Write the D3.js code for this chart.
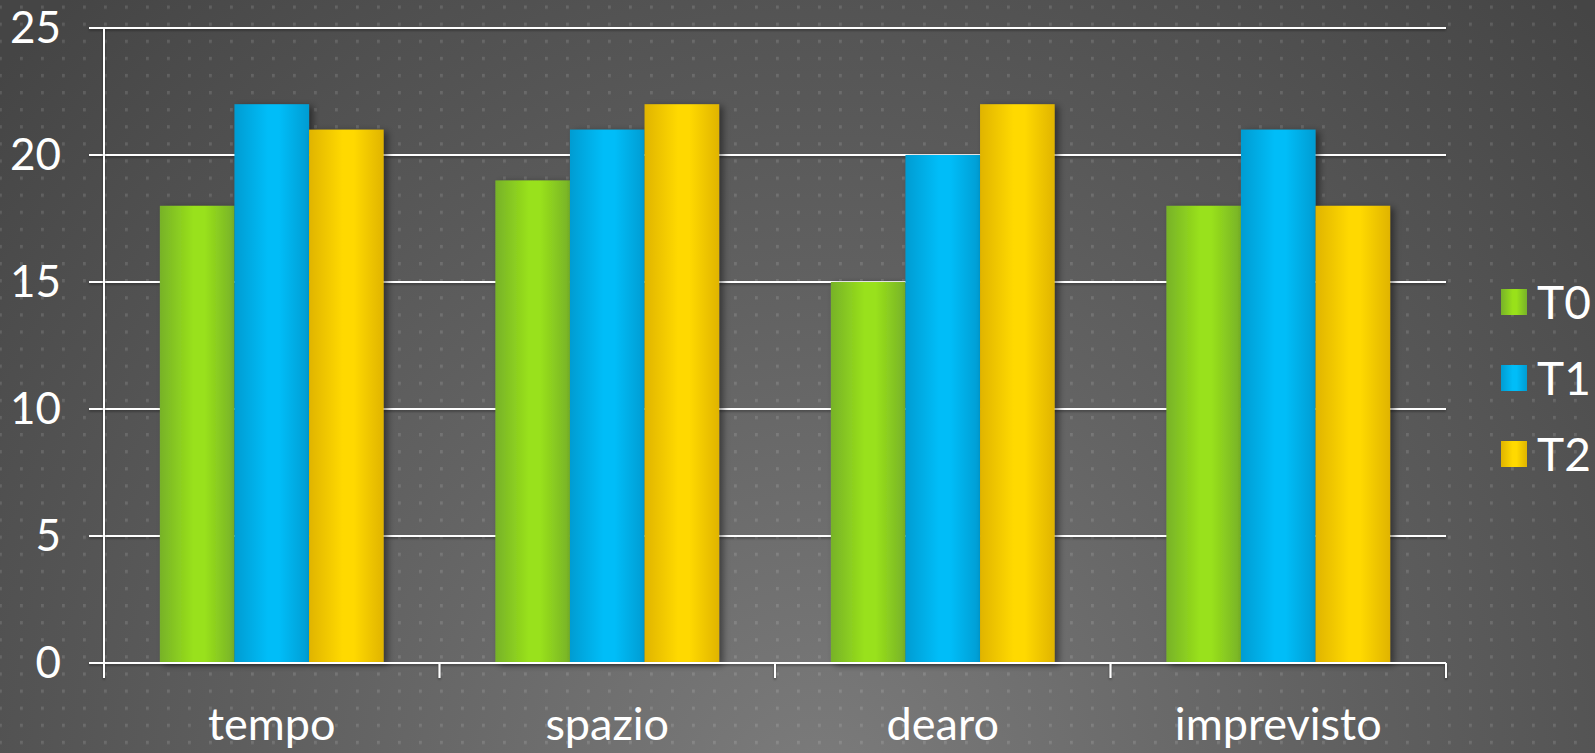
<!DOCTYPE html>
<html>
<head>
<meta charset="utf-8">
<script src="https://cdn.jsdelivr.net/npm/d3@7"></script>
<style>
  html, body { margin: 0; padding: 0; background: #555; overflow: hidden; }
  svg { display: block; }
  text { font-family: Lato, "Open Sans", sans-serif; fill: #fff; }
</style>
</head>
<body>
<svg id="chart" width="1595" height="753"></svg>
<script>
// Categories, series and values
const categories = ["tempo", "spazio", "dearo", "imprevisto"];
const seriesNames = ["T0", "T1", "T2"];
const T0 = [18, 19, 15, 18];
const T1 = [22, 21, 20, 21];
const T2 = [21, 22, 22, 18];
const yTicks = [0, 5, 10, 15, 20, 25];

// Bar colours: [dark edge, bright centre]
const seriesColors = [
  ["#77b229", "#99e11a"],
  ["#009cd2", "#00bdf8"],
  ["#e0b400", "#ffd900"]
];

const values = [T0, T1, T2];
const width = 1595, height = 753;
const margin = { left: 104, right: 149, top: 28, bottom: 90 };
const plotRight = width - margin.right;
const plotBottom = height - margin.bottom;

const svg = d3.select("#chart");
const defs = svg.append("defs");

// Background: dark at the top, lighter toward the bottom centre
const bg = defs.append("radialGradient").attr("id", "bgGrad")
  .attr("gradientUnits", "userSpaceOnUse")
  .attr("cx", 820).attr("cy", 800).attr("r", 1100);
bg.append("stop").attr("offset", "0%").attr("stop-color", "#7c7c7c");
bg.append("stop").attr("offset", "45%").attr("stop-color", "#626262");
bg.append("stop").attr("offset", "100%").attr("stop-color", "#454545");

// Dotted texture
const pat = defs.append("pattern").attr("id", "dots")
  .attr("patternUnits", "userSpaceOnUse")
  .attr("x", 20).attr("y", 5.5)
  .attr("width", 21).attr("height", 17.1);
pat.append("rect").attr("x", 0).attr("y", 0).attr("width", 2.8).attr("height", 3.3)
  .attr("fill", "#fff").attr("fill-opacity", 0.12);

// Shadows
const sh = defs.append("filter").attr("id", "barShadow")
  .attr("x", "-20%").attr("y", "-10%").attr("width", "150%").attr("height", "130%");
sh.append("feDropShadow").attr("dx", 4).attr("dy", 2).attr("stdDeviation", 3.5)
  .attr("flood-color", "#000").attr("flood-opacity", 0.45);
const lsh = defs.append("filter").attr("id", "lineShadow")
  .attr("x", "-5%").attr("y", "-200%").attr("width", "110%").attr("height", "500%");
lsh.append("feDropShadow").attr("dx", 0).attr("dy", 1.5).attr("stdDeviation", 0.8)
  .attr("flood-color", "#000").attr("flood-opacity", 0.4);

// Horizontal bar gradients
seriesColors.forEach((c, i) => {
  const g = defs.append("linearGradient").attr("id", "barGrad" + i)
    .attr("x1", "0").attr("y1", "0").attr("x2", "1").attr("y2", "0");
  g.append("stop").attr("offset", "0%").attr("stop-color", c[0]);
  g.append("stop").attr("offset", "45%").attr("stop-color", c[1]);
  g.append("stop").attr("offset", "60%").attr("stop-color", c[1]);
  g.append("stop").attr("offset", "100%").attr("stop-color", c[0]);
});

svg.append("rect").attr("width", width).attr("height", height).attr("fill", "url(#bgGrad)");
svg.append("rect").attr("width", width).attr("height", height).attr("fill", "url(#dots)");

// Scales
const x0 = d3.scaleBand().domain(categories).range([margin.left, plotRight])
  .paddingInner(0.333).paddingOuter(0.1665);
const x1 = d3.scaleBand().domain(seriesNames).range([0, x0.bandwidth()]).padding(0);
const y = d3.scaleLinear().domain([0, 25]).range([plotBottom, margin.top]);

// Gridlines with left tick marks
const grid = svg.append("g").attr("filter", "url(#lineShadow)");
grid.selectAll("line.grid").data(yTicks.filter(d => d > 0)).join("line")
  .attr("class", "grid")
  .attr("x1", margin.left - 15).attr("x2", plotRight)
  .attr("y1", d => y(d)).attr("y2", d => y(d))
  .attr("stroke", "#fff").attr("stroke-width", 2);

// Bars
const groups = svg.append("g").selectAll("g").data(categories).join("g")
  .attr("transform", d => `translate(${x0(d)},0)`);
groups.selectAll("rect")
  .data((c, ci) => seriesNames.map((s, si) => ({ s, si, v: values[si][ci] })))
  .join("rect")
  .attr("x", d => x1(d.s))
  .attr("width", x1.bandwidth())
  .attr("y", d => y(d.v))
  .attr("height", d => y(0) - y(d.v))
  .attr("fill", d => `url(#barGrad${d.si})`)
  .attr("filter", "url(#barShadow)");

// Axes
const axes = svg.append("g").attr("filter", "url(#lineShadow)");
axes.append("line")
  .attr("x1", margin.left).attr("x2", margin.left)
  .attr("y1", margin.top).attr("y2", plotBottom + 15)
  .attr("stroke", "#fff").attr("stroke-width", 2);
axes.append("line")
  .attr("x1", margin.left - 15).attr("x2", plotRight)
  .attr("y1", plotBottom).attr("y2", plotBottom)
  .attr("stroke", "#fff").attr("stroke-width", 2);
const xTickPos = categories.map(c => x0(c) - x0.step() * x0.paddingInner() / 2).concat([plotRight]);
axes.selectAll("line.xtick").data(xTickPos).join("line")
  .attr("class", "xtick")
  .attr("x1", d => d).attr("x2", d => d)
  .attr("y1", plotBottom).attr("y2", plotBottom + 15)
  .attr("stroke", "#fff").attr("stroke-width", 2);

// Y tick labels
svg.append("g").selectAll("text").data(yTicks).join("text")
  .attr("x", 61).attr("y", d => y(d))
  .attr("dy", "0.35em")
  .attr("text-anchor", "end")
  .style("font-size", "44px")
  .text(d => d);

// Category labels
svg.append("g").selectAll("text").data(categories).join("text")
  .attr("x", d => x0(d) + x0.bandwidth() / 2)
  .attr("y", 740)
  .attr("text-anchor", "middle")
  .style("font-size", "45px")
  .text(d => d);

// Legend
const legend = svg.append("g").selectAll("g").data(seriesNames).join("g")
  .attr("transform", (d, i) => `translate(1501,${289 + i * 76})`);
legend.append("rect").attr("width", 26).attr("height", 26)
  .attr("fill", (d, i) => `url(#barGrad${i})`);
legend.append("text").attr("x", 36).attr("y", 13).attr("dy", "0.36em")
  .style("font-size", "46px")
  .text(d => d);
</script>
</body>
</html>
